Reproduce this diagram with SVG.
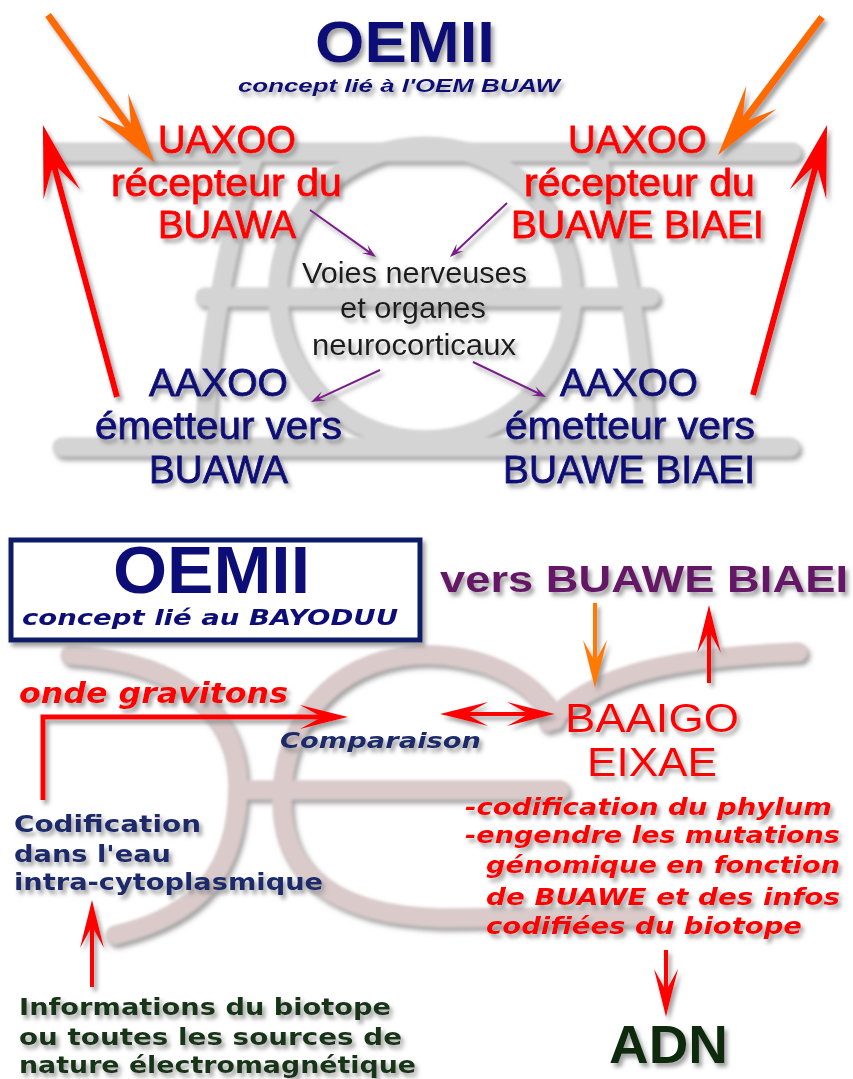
<svg xmlns="http://www.w3.org/2000/svg" width="853" height="1079" viewBox="0 0 853 1079">
<defs>
<filter id="sh" x="-10%" y="-20%" width="130%" height="160%">
<feGaussianBlur in="SourceAlpha" stdDeviation="2.2"/>
<feOffset dx="3" dy="4" result="b"/>
<feFlood flood-color="#808080" flood-opacity="0.75"/>
<feComposite in2="b" operator="in" result="s"/>
<feMerge><feMergeNode in="s"/><feMergeNode in="SourceGraphic"/></feMerge>
</filter>
<filter id="soft" x="-5%" y="-5%" width="110%" height="110%">
<feGaussianBlur stdDeviation="1.5"/>
</filter>
<marker id="hOrange" markerUnits="userSpaceOnUse" viewBox="-80 -25 90 50" refX="-44" refY="0" markerWidth="90" markerHeight="50" orient="auto" overflow="visible">
<path d="M0,0 L-72,-19 L-46,-3.5 L-46,3.5 L-72,19 Z" fill="#ff6a00"/>
</marker>
<marker id="hRed" markerUnits="userSpaceOnUse" viewBox="-80 -25 90 50" refX="-44" refY="0" markerWidth="90" markerHeight="50" orient="auto" overflow="visible">
<path d="M0,0 L-72,-19 L-46,-3.5 L-46,3.5 L-72,19 Z" fill="#ff0000"/>
</marker>
<marker id="hPurple" markerUnits="userSpaceOnUse" viewBox="-16 -6 18 12" refX="-8" refY="0" markerWidth="18" markerHeight="12" orient="auto" overflow="visible">
<path d="M0,0 L-14,-5 L-9,-1 L-9,1 L-14,5 Z" fill="#7a1f8c"/>
</marker>
<marker id="mRed" markerUnits="userSpaceOnUse" viewBox="-50 -14 52 28" refX="-28" refY="0" markerWidth="52" markerHeight="28" orient="auto-start-reverse" overflow="visible">
<path d="M0,0 L-48,-12 L-30,-2 L-30,2 L-48,12 Z" fill="#ff0000"/>
</marker>
<marker id="mOrange" markerUnits="userSpaceOnUse" viewBox="-50 -14 52 28" refX="-28" refY="0" markerWidth="52" markerHeight="28" orient="auto" overflow="visible">
<path d="M0,0 L-48,-12 L-30,-2 L-30,2 L-48,12 Z" fill="#ff7a00"/>
</marker>
</defs>
<style>
.deco1{fill:none;stroke:#d4d4d4;stroke-width:19;stroke-linecap:round}
.deco2{fill:none;stroke:#dacaca;stroke-width:19;stroke-linecap:round}
.na{font-family:"Liberation Sans",Arial,sans-serif}
.ve{font-family:"DejaVu Sans",Verdana,sans-serif;font-weight:bold}
.red{fill:#ff0000}
.navy{fill:#101078}
.slate{fill:#1a2c6c}
.green{fill:#163416}
.big{font-size:39px;stroke-width:0.9px}
.big.red{stroke:#ff0000}
.big.navy{stroke:#101078}
.sm{font-size:23px}
</style>
<rect width="853" height="1079" fill="#ffffff"/>

<g id="decor-top" filter="url(#sh)">
<g filter="url(#soft)">
<path class="deco1" d="M58,152 L792,152"/>
<circle class="deco1" cx="425" cy="293" r="147"/>
<path class="deco1" d="M205,297 L650,297"/>
<path class="deco1" d="M62,447 L790,447"/>
<path class="deco1" d="M252,160 C225,250 205,360 205,447"/>
<path class="deco1" d="M598,160 C625,250 645,360 645,447"/>
</g>
</g>
<g id="decor-bottom" filter="url(#sh)">
<g filter="url(#soft)">
<path class="deco2" d="M70,655 C190,662 240,720 238,790 C236,870 200,915 115,935"/>
<path class="deco2" d="M555,720 C530,672 470,652 415,655 C330,662 282,725 282,800 C282,875 335,915 440,918 L645,916"/>
<path class="deco2" d="M238,790 L560,790"/>
<path class="deco2" d="M548,722 C590,680 650,658 798,652"/>
</g>
</g>

<g id="connectors" fill="none" filter="url(#sh)">
<line x1="48" y1="15" x2="129.2" y2="127.4" stroke="#ff6a00" stroke-width="7" marker-end="url(#hOrange)"/>
<line x1="822" y1="17" x2="744.5" y2="119.8" stroke="#ff6a00" stroke-width="7" marker-end="url(#hOrange)"/>
<line x1="117" y1="397" x2="54.5" y2="167.5" stroke="#ff0000" stroke-width="6" marker-end="url(#hRed)"/>
<line x1="753" y1="395" x2="815.4" y2="167.4" stroke="#ff0000" stroke-width="6" marker-end="url(#hRed)"/>
<line x1="310" y1="210" x2="369.5" y2="252.4" stroke="#7a1f8c" stroke-width="2" marker-end="url(#hPurple)"/>
<line x1="507" y1="203" x2="455.8" y2="251.5" stroke="#7a1f8c" stroke-width="2" marker-end="url(#hPurple)"/>
<line x1="380" y1="370" x2="318.3" y2="398.6" stroke="#7a1f8c" stroke-width="2" marker-end="url(#hPurple)"/>
<line x1="473" y1="362" x2="538.8" y2="393.5" stroke="#7a1f8c" stroke-width="2" marker-end="url(#hPurple)"/>
<line x1="595" y1="603" x2="595" y2="660" stroke="#ff7a00" stroke-width="4" marker-end="url(#mOrange)"/>
<line x1="709" y1="683" x2="709" y2="633" stroke="#ff0000" stroke-width="4" marker-end="url(#mRed)"/>
<line x1="468" y1="714" x2="527" y2="714" stroke="#ff0000" stroke-width="4" marker-start="url(#mRed)" marker-end="url(#mRed)"/>
<path d="M43,800 V717 H320" stroke="#ff0000" stroke-width="5" marker-end="url(#mRed)"/>
<line x1="92" y1="987" x2="92" y2="928" stroke="#ff0000" stroke-width="4" marker-end="url(#mRed)"/>
<line x1="666" y1="950" x2="666" y2="989" stroke="#ff0000" stroke-width="4" marker-end="url(#mRed)"/>
</g>

<g id="title-top" filter="url(#sh)">
<text class="na navy" x="315" y="62" font-size="57" font-weight="bold" textLength="180" lengthAdjust="spacingAndGlyphs">OEMII</text>
<text class="na navy" x="238" y="92" font-size="19" font-weight="bold" font-style="italic" textLength="322" lengthAdjust="spacingAndGlyphs">concept lié à l'OEM BUAW</text>
</g>
<g id="uaxoo-left" class="na red big" filter="url(#sh)">
<text x="158" y="153" textLength="138" lengthAdjust="spacingAndGlyphs">UAXOO</text>
<text x="111" y="196" textLength="231" lengthAdjust="spacingAndGlyphs">récepteur du</text>
<text x="158" y="238" textLength="138" lengthAdjust="spacingAndGlyphs">BUAWA</text>
</g>
<g id="uaxoo-right" class="na red big" filter="url(#sh)">
<text x="568" y="153" textLength="139" lengthAdjust="spacingAndGlyphs">UAXOO</text>
<text x="524" y="196" textLength="231" lengthAdjust="spacingAndGlyphs">récepteur du</text>
<text x="511" y="238" textLength="253" lengthAdjust="spacingAndGlyphs">BUAWE BIAEI</text>
</g>
<g id="voies" class="na" font-size="29" fill="#1e1e1e" filter="url(#sh)">
<text x="302" y="283" textLength="225" lengthAdjust="spacingAndGlyphs">Voies nerveuses</text>
<text x="340" y="318" textLength="146" lengthAdjust="spacingAndGlyphs">et organes</text>
<text x="312" y="355" textLength="204" lengthAdjust="spacingAndGlyphs">neurocorticaux</text>
</g>
<g id="aaxoo-left" class="na navy big" filter="url(#sh)">
<text x="149" y="396" textLength="139" lengthAdjust="spacingAndGlyphs">AAXOO</text>
<text x="95" y="439" textLength="247" lengthAdjust="spacingAndGlyphs">émetteur vers</text>
<text x="149" y="483" textLength="139" lengthAdjust="spacingAndGlyphs">BUAWA</text>
</g>
<g id="aaxoo-right" class="na navy big" filter="url(#sh)">
<text x="560" y="396" textLength="138" lengthAdjust="spacingAndGlyphs">AAXOO</text>
<text x="505" y="439" textLength="250" lengthAdjust="spacingAndGlyphs">émetteur vers</text>
<text x="503" y="483" textLength="252" lengthAdjust="spacingAndGlyphs">BUAWE BIAEI</text>
</g>

<g id="title-bottom" filter="url(#sh)">
<rect x="11" y="540" width="409" height="100" fill="#ffffff" stroke="#0a1f66" stroke-width="5"/>
<text class="na navy" x="113" y="593" font-size="67" font-weight="bold" textLength="197" lengthAdjust="spacingAndGlyphs">OEMII</text>
<text class="ve navy" x="22" y="625" font-size="22" font-style="italic" textLength="376" lengthAdjust="spacingAndGlyphs">concept lié au BAYODUU</text>
</g>
<g id="vers-buawe" filter="url(#sh)">
<text class="na" x="440" y="592" font-size="36" font-weight="bold" fill="#661466" textLength="408" lengthAdjust="spacingAndGlyphs">vers BUAWE BIAEI</text>
</g>
<g id="onde" filter="url(#sh)">
<text class="ve red" x="19" y="703" font-size="29" font-style="italic" textLength="269" lengthAdjust="spacingAndGlyphs">onde gravitons</text>
</g>
<g id="comparaison" filter="url(#sh)">
<text class="ve slate" x="280" y="748" font-size="22" font-style="italic" textLength="201" lengthAdjust="spacingAndGlyphs">Comparaison</text>
</g>
<g id="baaigo" class="na red" font-size="40" filter="url(#sh)">
<text x="565" y="732" textLength="174" lengthAdjust="spacingAndGlyphs">BAAIGO</text>
<text x="587" y="776" textLength="130" lengthAdjust="spacingAndGlyphs">EIXAE</text>
</g>
<g id="baaigo-desc" class="ve red sm" font-style="italic" filter="url(#sh)">
<text x="465" y="815" textLength="367" lengthAdjust="spacingAndGlyphs">-codification du phylum</text>
<text x="465" y="843" textLength="375" lengthAdjust="spacingAndGlyphs">-engendre les mutations</text>
<text x="486" y="873" textLength="354" lengthAdjust="spacingAndGlyphs">génomique en fonction</text>
<text x="486" y="905" textLength="354" lengthAdjust="spacingAndGlyphs">de BUAWE et des infos</text>
<text x="486" y="934" textLength="316" lengthAdjust="spacingAndGlyphs">codifiées du biotope</text>
</g>
<g id="codification" class="ve slate sm" filter="url(#sh)">
<text x="14" y="832" textLength="187" lengthAdjust="spacingAndGlyphs">Codification</text>
<text x="14" y="862" textLength="157" lengthAdjust="spacingAndGlyphs">dans l'eau</text>
<text x="14" y="890" textLength="309" lengthAdjust="spacingAndGlyphs">intra-cytoplasmique</text>
</g>
<g id="informations" class="ve green sm" filter="url(#sh)">
<text x="19" y="1015" textLength="372" lengthAdjust="spacingAndGlyphs">Informations du biotope</text>
<text x="19" y="1045" textLength="383" lengthAdjust="spacingAndGlyphs">ou toutes les sources de</text>
<text x="19" y="1073" textLength="397" lengthAdjust="spacingAndGlyphs">nature électromagnétique</text>
</g>
<g id="adn" filter="url(#sh)">
<text class="na" x="609" y="1063" font-size="53" font-weight="bold" fill="#0d2a0d" textLength="119" lengthAdjust="spacingAndGlyphs">ADN</text>
</g>
</svg>
